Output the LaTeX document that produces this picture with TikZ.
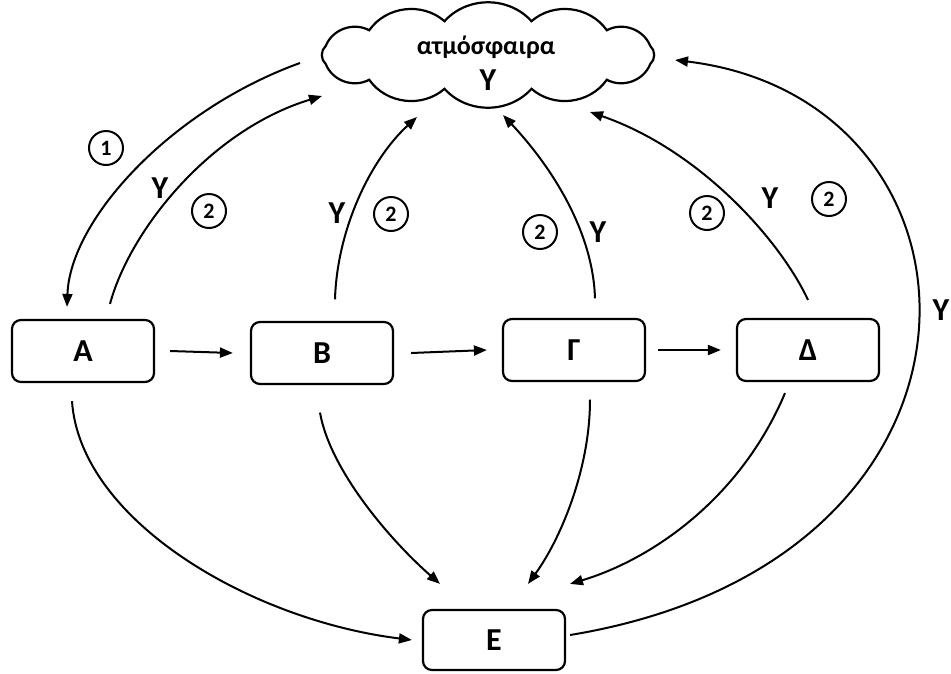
\documentclass[tikz,border=0pt]{standalone}
\usepackage{fontspec}
\setmainfont{Carlito}
\usetikzlibrary{arrows.meta}
\tikzset{
  box/.style={draw,line width=2.2pt,rounded corners=9pt,minimum width=142pt,minimum height=62pt,font=\fontsize{32}{36}\selectfont\bfseries},
  arr/.style={line width=2pt,-{Triangle[length=13pt,width=10pt]}},
  lab/.style={font=\fontsize{32}{36}\selectfont\bfseries,inner sep=0pt},
  num/.style={draw,circle,line width=2pt,minimum size=34pt,inner sep=0pt,font=\fontsize{22}{24}\selectfont\bfseries},
  puff/.style={bend left=48}
}
\begin{document}
\begin{tikzpicture}[x=1pt,y=-1pt]
\useasboundingbox (0,0) rectangle (951,673);
% cloud
\foreach \i in {0,...,11}
  \coordinate (p\i) at ({488+168*cos(\i*30+15)},{55+35*sin(\i*30+15)});
\draw[line width=2.2pt] (p0) to[puff] (p1) to[puff] (p2) to[puff] (p3) to[puff] (p4)
  to[puff] (p5) to[puff] (p6) to[puff] (p7) to[puff] (p8) to[puff] (p9)
  to[puff] (p10) to[puff] (p11) to[puff] (p0);
\node[inner sep=0pt,minimum width=345pt,minimum height=90pt] (cl) at (488,55) {};
\node[font=\fontsize{26}{30}\selectfont\bfseries,inner sep=0pt] (t1) at (486,47) {ατμόσφαιρα};
\node[lab] (t2) at (488,80) {Υ};
\node[box] (A) at (83,351) {Α};
\node[box] (B) at (322,353) {Β};
\node[box] (G) at (574,350) {Γ};
\node[box] (D) at (808,350) {Δ};
\node[box,minimum height=60pt] (E) at (494,640) {Ε};
% horizontal
\draw[arr] ([xshift=15pt]A.east) -- ([xshift=-17pt]B.west);
\draw[arr] ([xshift=17pt]B.east) -- ([xshift=-15pt]G.west);
\draw[arr] ([xshift=12pt]G.east) -- ([xshift=-15pt]D.west);
% to/from atmosphere
\draw[arr] ([xshift=-188pt,yshift=-8pt]cl.center) .. controls (170,110) and (70,220) .. ([xshift=-16pt,yshift=12pt]A.north);
\draw[arr] ([xshift=27pt,yshift=15pt]A.north) .. controls (130,230) and (210,130) .. ([xshift=-166pt,yshift=-41pt]cl.center);
\draw[arr] ([xshift=13pt,yshift=21.5pt]B.north) .. controls (337,230) and (370,160) .. ([xshift=-71pt,yshift=-62pt]cl.center);
\draw[arr] ([xshift=21pt,yshift=19.5pt]G.north) .. controls (593,230) and (550,165) .. ([xshift=15pt,yshift=-60pt]cl.center);
\draw[arr] ([yshift=18pt]D.north) .. controls (780,240) and (700,150) .. ([xshift=102pt,yshift=-57pt]cl.center);
\draw[arr] ([xshift=4pt,yshift=5pt]E.east) .. controls (1025,560) and (1005,100) .. ([xshift=187pt,yshift=-5pt]cl.center);
% to E
\draw[arr] ([xshift=-11pt,yshift=-18pt]A.south) .. controls (80,520) and (250,620) .. ([xshift=-10pt]E.west);
\draw[arr] ([xshift=-2pt,yshift=-27.5pt]B.south) .. controls (330,470) and (390,540) .. ([xshift=-54pt,yshift=25pt]E.north);
\draw[arr] ([xshift=16pt,yshift=-17.5pt]G.south) .. controls (590,470) and (560,540) .. ([xshift=34pt,yshift=25pt]E.north);
\draw[arr] ([xshift=-23pt,yshift=-11pt]D.south) .. controls (740,500) and (650,560) .. ([xshift=76pt,yshift=25pt]E.north);
% labels
\node[num] (n1) at (106,148) {1};
\node[lab] (y1) at (160,188) {Υ};
\node[num] (n2) at (209,211) {2};
\node[lab] (y2) at (337,213) {Υ};
\node[num] (n3) at (391,214) {2};
\node[num] (n4) at (540,232) {2};
\node[lab] (y3) at (598,232) {Υ};
\node[num] (n5) at (707,213) {2};
\node[lab] (y4) at (770,198) {Υ};
\node[num] (n6) at (829,199) {2};
\node[lab] (y5) at (941,310) {Υ};
\end{tikzpicture}
\end{document}
